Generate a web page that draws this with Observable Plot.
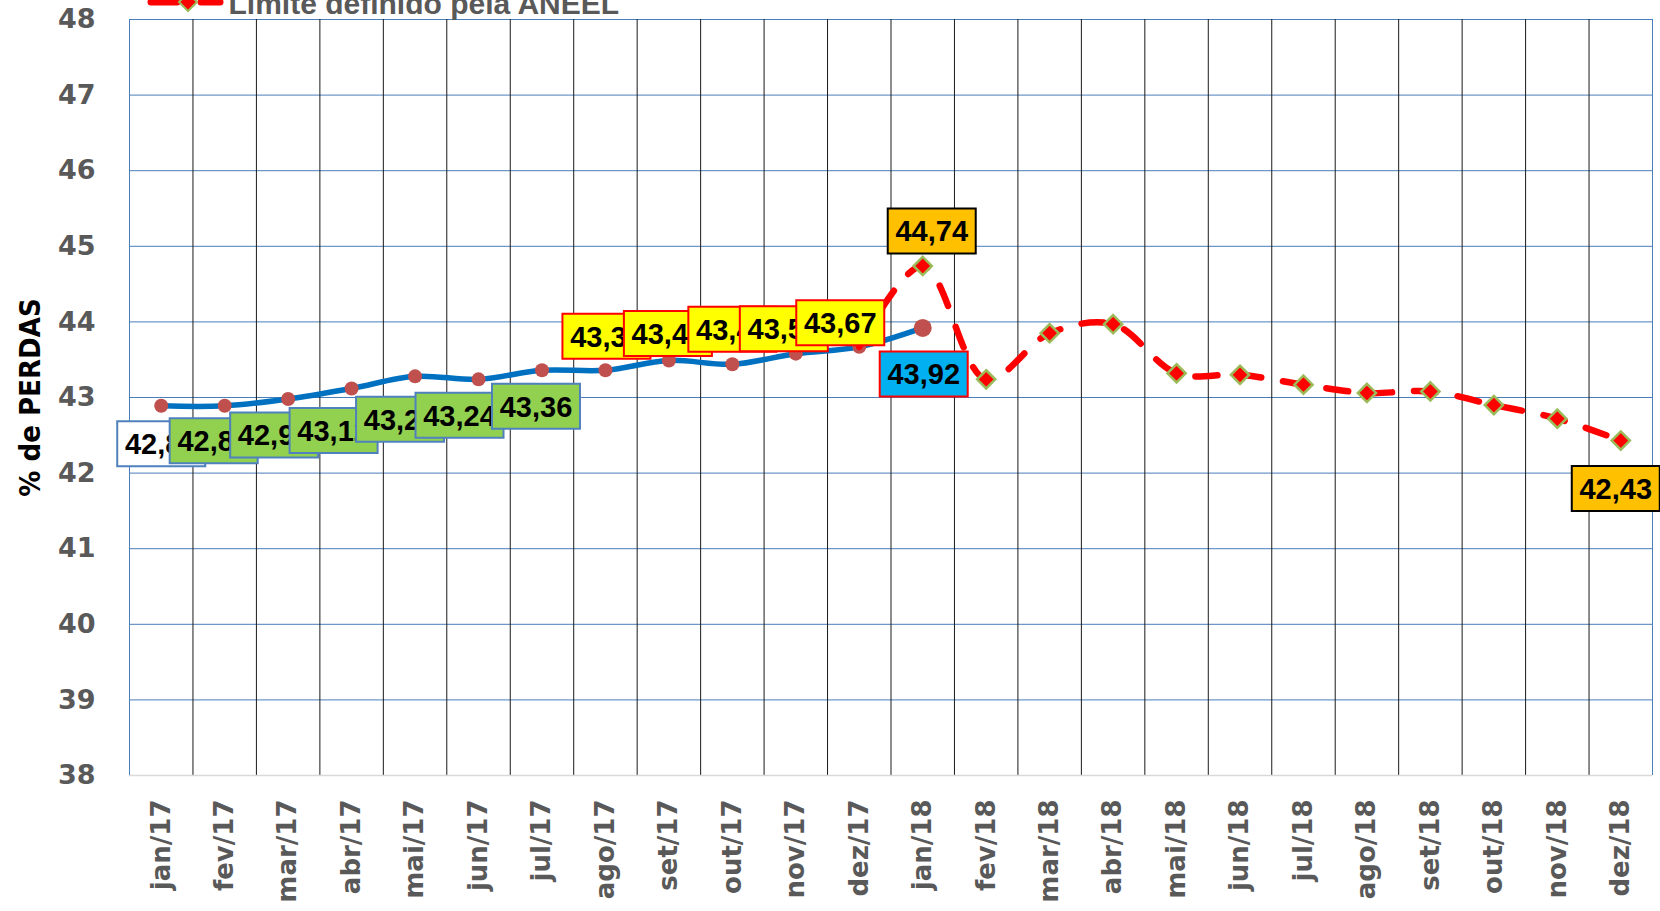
<!DOCTYPE html>
<html><head><meta charset="utf-8">
<script src="https://cdn.jsdelivr.net/npm/d3@7"></script>
<script src="https://cdn.jsdelivr.net/npm/@observablehq/plot@0.6"></script>
<style>
html,body{margin:0;padding:0;background:#fff;}
#chart svg{display:block;}
</style></head><body><div id="chart"></div>
<script>
// ---------- data ----------
const months = ["jan/17","fev/17","mar/17","abr/17","mai/17","jun/17","jul/17","ago/17","set/17","out/17","nov/17","dez/17",
                "jan/18","fev/18","mar/18","abr/18","mai/18","jun/18","jul/18","ago/18","set/18","out/18","nov/18","dez/18"];
const yTicks = [38,39,40,41,42,43,44,45,46,47,48];

const realizedMonths = ["jan/17","fev/17","mar/17","abr/17","mai/17","jun/17","jul/17","ago/17","set/17","out/17","nov/17","dez/17","jan/18"];
const realizedValues = [42.89, 42.89, 42.98, 43.12, 43.28, 43.24, 43.36, 43.36, 43.49, 43.44, 43.58, 43.67, 43.92];

const limitMonths = ["dez/17","jan/18","fev/18","mar/18","abr/18","mai/18","jun/18","jul/18","ago/18","set/18","out/18","nov/18","dez/18"];
const limitValues = [43.67, 44.74, 43.24, 43.85, 43.97, 43.32, 43.30, 43.17, 43.06, 43.08, 42.90, 42.72, 42.43];
const limitMarkerMonths = ["jan/18","fev/18","mar/18","abr/18","mai/18","jun/18","jul/18","ago/18","set/18","out/18","nov/18","dez/18"];
const limitLabeledMonths = ["jan/18","dez/18"];

const yLabel = "% de PERDAS";
const legendLabel = "Limite definido pela ANEEL";

// ---------- tables ----------
const realized = realizedMonths.map((m, k) => ({i: months.indexOf(m), v: realizedValues[k]}));
const limit = limitMonths.map((m, k) => ({i: months.indexOf(m), v: limitValues[k], m}));
const limitMarkers = limit.filter(d => limitMarkerMonths.includes(d.m));
const limitLabeled = limit.filter(d => limitLabeledMonths.includes(d.m));
const fmt = v => v.toFixed(2).replace(".", ",");

// ---------- styles ----------
const BOX_W = 88, BOX_H = 45;
const boxSymbol = {draw(ctx) {
  ctx.moveTo(-BOX_W/2, -BOX_H/2); ctx.lineTo(BOX_W/2, -BOX_H/2);
  ctx.lineTo(BOX_W/2, BOX_H/2); ctx.lineTo(-BOX_W/2, BOX_H/2); ctx.closePath();
}};
const realizedOffsets = [[0,38],[-11,35],[-14,36],[-18,42],[-15,43],[-19,36],[-6,36],[1,-34],[-1,-27],[0,-35],[-12,-25],[-19,-24],[1,46]];
const realizedStyle = k => k === 0 ? {fill:"#FFFFFF", stroke:"#4F81BD"}
  : k <= 6 ? {fill:"#92D050", stroke:"#4F81BD"}
  : k <= 11 ? {fill:"#FFFF00", stroke:"#FF0000"}
  : {fill:"#00B0F0", stroke:"#FF0000"};
const limitOffsets = [[9,-35],[-5,48]];
const LABEL_FONT = "Liberation Sans, Arial, sans-serif";

const labelMarks = [];
function addLabel(d, dx, dy, fill, stroke) {
  labelMarks.push(Plot.dot([d], {x:"i", y:"v", symbol: boxSymbol, r: 1, fill, stroke, strokeWidth: 2, dx, dy}));
  labelMarks.push(Plot.text([d], {x:"i", y:"v", text: e => fmt(e.v), dx, dy: dy + 1, fontSize: 29, fontWeight: "bold",
    fontFamily: LABEL_FONT, fill: "#000"}));
}
realized.forEach((d, k) => { const s = realizedStyle(k); addLabel(d, realizedOffsets[k][0], realizedOffsets[k][1], s.fill, s.stroke); });
limitLabeled.forEach((d, k) => addLabel(d, limitOffsets[k][0], limitOffsets[k][1], "#FFC000", "#000000"));

const idx = months.map((m, i) => i);
const innerBounds = months.slice(1).map((m, i) => i + 0.5);

// legend (drawn in the top margin)
const legendMark = () => {
  const g = d3.create("svg:g");
  g.append("line").attr("x1", 151).attr("x2", 177).attr("y1", 2).attr("y2", 2)
    .attr("stroke", "#FF0000").attr("stroke-width", 7).attr("stroke-linecap", "round");
  g.append("line").attr("x1", 201).attr("x2", 220).attr("y1", 2).attr("y2", 2)
    .attr("stroke", "#FF0000").attr("stroke-width", 7).attr("stroke-linecap", "round");
  g.append("path").attr("d", "M188,-7L197,2L188,11L179,2Z").attr("fill", "#FF0000")
    .attr("stroke", "#9BBB59").attr("stroke-width", 2);
  return g.node();
};

const chart = Plot.plot({
  width: 1660, height: 911,
  marginLeft: 129, marginRight: 8, marginTop: 19, marginBottom: 136,
  style: {fontFamily: "DejaVu Sans, sans-serif", background: "#fff", overflow: "visible"},
  x: {type: "linear", domain: [-0.5, 23.5]},
  y: {domain: [38, 48]},
  marks: [
    Plot.ruleY(yTicks.filter(t => t > 38), {stroke: "#4A7EBB", strokeWidth: 1}),
    Plot.ruleX(innerBounds, {stroke: "#1a1a1a", strokeWidth: 1}),
    Plot.ruleY([38], {stroke: "#D9D9D9", strokeWidth: 1.5}),
    Plot.ruleX([-0.5, 23.5], {stroke: "#4A7EBB", strokeWidth: 1}),
    Plot.line(realized, {x: "i", y: "v", stroke: "#0070C0", strokeWidth: 5.5, curve: "catmull-rom"}),
    Plot.dot(realized.slice(0, -1), {x: "i", y: "v", r: 7, fill: "#C0504D", stroke: "none"}),
    Plot.dot(realized.slice(-1), {x: "i", y: "v", r: 9, fill: "#C0504D", stroke: "none"}),
    Plot.line(limit, {x: "i", y: "v", stroke: "#FF0000", strokeWidth: 6.5, curve: "catmull-rom",
      strokeDasharray: "22,22", strokeLinecap: "round"}),
    Plot.dot(limitMarkers, {x: "i", y: "v", symbol: "diamond2", r: 8.2, fill: "#FF0000", stroke: "#9BBB59", strokeWidth: 2.5}),
    ...labelMarks,
    Plot.axisX(idx, {tickFormat: i => months[i], tickRotate: -90, tickSize: 0, tickPadding: 24,
      fontSize: 26, fontWeight: "bold", fill: "#595959", fontFamily: "DejaVu Sans, sans-serif", label: null}),
    Plot.axisY(yTicks, {tickFormat: d => String(d), tickSize: 0, tickPadding: 34, fontSize: 27, fontWeight: "bold", fill: "#595959",
      fontFamily: "DejaVu Sans, sans-serif", label: null}),
    Plot.text([yLabel], {text: d => d, frameAnchor: "left", dx: -99, rotate: -90, textAnchor: "middle", fontSize: 29, fontWeight: "bold",
      fontFamily: "Liberation Sans Narrow, DejaVu Sans Condensed, Liberation Sans, sans-serif", fill: "#000"}),
    Plot.text([legendLabel], {text: d => d, frameAnchor: "top-left", dx: 99, dy: -6, textAnchor: "start", lineAnchor: "bottom",
      fontSize: 30, fontWeight: "bold", fontFamily: LABEL_FONT, fill: "#595959"}),
    legendMark
  ]
});
document.getElementById("chart").append(chart);
</script>
</body></html>
